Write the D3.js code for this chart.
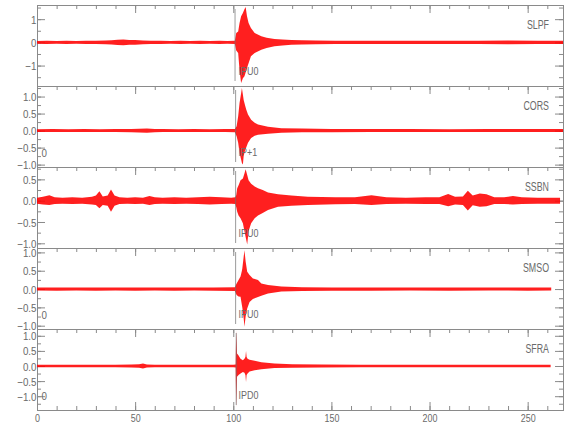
<!DOCTYPE html>
<html><head><meta charset="utf-8">
<script src="https://cdn.jsdelivr.net/npm/d3@7"></script>
<style>body{margin:0;background:#fff}</style>
</head><body><svg id="c" width="580" height="440"></svg>
<script>
// ---------- DATA ----------
const STATIONS = ["SLPF", "CORS", "SSBN", "SMSO", "SFRA"];
const PHASES = ["IPU0", "IP+1", "IPU0", "IPU0", "IPD0"];
const ZERO_MARKS = ["", "0", "", "0", "0"];
const PICKS = [100.9, 101.2, 101.2, 101.2, 101.5];
const X_TICK_LABELS = [0, 50, 100, 150, 200, 250];
const X_MAX = 268;
const Y_MIN = [-1.88, -1.07, -1.11, -1.09, -1.457];
const Y_MAX = [1.61, 1.31, 0.79, 1.12, 1.225];
const Y_MAJOR = [1, 0.5, 0.5, 0.5, 0.5];
const Y_MINOR = [0.5, 0.25, 0.25, 0.25, 0.25];

// Envelope of each trace: time, upper and lower amplitude
const SLPF_T = [0,5,10,15,20,25,30,35,38,41,44,47,50,54,58,63,68,73,78,83,88,93,97,100.8,101.5,102.5,103.2,104,104.9,105.7,106.3,107,107.8,109,110.9,114.3,117,121,125,129.6,135,142,152,165,180,195,210,225,240,255,268];
const SLPF_UP = [0.06,0.07,0.06,0.07,0.06,0.07,0.07,0.08,0.09,0.11,0.12,0.1,0.1,0.08,0.07,0.07,0.06,0.07,0.06,0.07,0.06,0.07,0.06,0.07,0.4,0.47,0.83,1.12,1.26,1.43,1.52,1.12,0.83,0.62,0.4,0.26,0.2,0.14,0.12,0.1,0.09,0.08,0.07,0.07,0.07,0.07,0.07,0.07,0.08,0.07,0.07];
const SLPF_LO = [-0.06,-0.07,-0.06,-0.07,-0.06,-0.07,-0.07,-0.08,-0.09,-0.11,-0.12,-0.1,-0.1,-0.08,-0.07,-0.07,-0.06,-0.07,-0.06,-0.07,-0.06,-0.07,-0.06,-0.07,-0.35,-0.46,-1.2,-1.75,-1.55,-1.46,-1.3,-1.1,-0.9,-0.6,-0.46,-0.32,-0.24,-0.17,-0.13,-0.1,-0.09,-0.08,-0.07,-0.07,-0.07,-0.07,-0.07,-0.07,-0.08,-0.07,-0.07];

const CORS_T = [0,8,16,24,32,40,48,56,60,64,72,80,88,96,100.8,101.7,102.5,103.2,104,104.4,104.9,105.3,106.1,106.6,107.5,109.1,110.9,112.6,117.7,124.5,135,150,170,190,210,230,250,268];
const CORS_UP = [0.04,0.045,0.04,0.045,0.04,0.045,0.05,0.06,0.05,0.045,0.04,0.045,0.04,0.045,0.05,0.13,0.42,0.81,1.1,1.25,1.06,0.9,0.72,0.62,0.47,0.32,0.23,0.18,0.11,0.07,0.06,0.05,0.045,0.045,0.04,0.045,0.045,0.045];
const CORS_LO = [-0.04,-0.045,-0.04,-0.045,-0.04,-0.045,-0.05,-0.06,-0.05,-0.045,-0.04,-0.045,-0.04,-0.045,-0.05,-0.17,-0.36,-0.66,-0.85,-0.95,-1.0,-0.75,-0.56,-0.5,-0.36,-0.22,-0.15,-0.12,-0.09,-0.06,-0.05,-0.05,-0.045,-0.045,-0.04,-0.045,-0.045,-0.045];

const SSBN_T = [0,3,6.3,9,13,18,23,28,30,31.8,33.5,36,37.7,39.5,42,46,50,54,57.3,60,64,70,76,82,88,94,99,101,101.5,102,102.7,103.7,104.9,105.7,106.3,107.1,107.8,109.1,110.9,112.6,115,117.7,122.8,129.6,138,152,162,170.4,178,188,198,205,209.5,213,217,219.5,222,225.6,229,233,238,242.5,247,255,262,266.5];
const SSBN_UP = [0.07,0.09,0.13,0.08,0.07,0.08,0.07,0.09,0.12,0.22,0.1,0.12,0.26,0.12,0.08,0.07,0.08,0.07,0.11,0.08,0.07,0.08,0.07,0.08,0.09,0.08,0.07,0.08,0.13,0.29,0.36,0.48,0.52,0.64,0.74,0.6,0.48,0.4,0.33,0.29,0.25,0.19,0.15,0.12,0.09,0.08,0.08,0.13,0.08,0.07,0.08,0.08,0.155,0.09,0.1,0.23,0.12,0.17,0.15,0.08,0.08,0.11,0.08,0.07,0.07,0.07];
const SSBN_LO = [-0.07,-0.09,-0.1,-0.08,-0.07,-0.08,-0.07,-0.09,-0.1,-0.18,-0.1,-0.12,-0.26,-0.12,-0.08,-0.07,-0.08,-0.07,-0.1,-0.08,-0.07,-0.08,-0.07,-0.08,-0.09,-0.08,-0.07,-0.08,-0.15,-0.26,-0.35,-0.41,-0.53,-0.72,-0.85,-1.03,-0.72,-0.53,-0.41,-0.35,-0.29,-0.22,-0.14,-0.12,-0.1,-0.085,-0.08,-0.1,-0.08,-0.07,-0.08,-0.08,-0.13,-0.09,-0.1,-0.23,-0.11,-0.14,-0.13,-0.08,-0.08,-0.09,-0.08,-0.07,-0.07,-0.07];

const SMSO_T = [0,10,20,30,40,50,60,70,80,90,100.8,101.7,102.7,103.7,104.4,104.6,105.3,105.7,106.3,107.1,108.3,110,112.6,114.3,117.7,124.5,135,150,170,190,210,230,250,262];
const SMSO_UP = [0.04,0.045,0.04,0.045,0.04,0.045,0.04,0.045,0.04,0.045,0.05,0.15,0.25,0.34,0.5,0.56,0.88,1.06,0.75,0.47,0.38,0.29,0.25,0.15,0.11,0.07,0.05,0.045,0.045,0.04,0.045,0.04,0.045,0.04];
const SMSO_LO = [-0.04,-0.045,-0.04,-0.045,-0.04,-0.045,-0.04,-0.045,-0.04,-0.045,-0.05,-0.16,-0.2,-0.21,-0.44,-0.5,-0.8,-1.03,-0.75,-0.53,-0.35,-0.27,-0.22,-0.18,-0.12,-0.07,-0.05,-0.045,-0.045,-0.04,-0.045,-0.04,-0.045,-0.04];

const SFRA_T = [0,10,20,30,40,48,52,54,56,60,70,80,90,100,101.2,101.5,101.9,102.7,103.7,104.9,105.7,106.2,106.5,106.8,107.3,108.3,110.9,114.3,121,130,145,165,190,215,240,261.7];
const SFRA_UP = [0.04,0.04,0.04,0.04,0.045,0.05,0.06,0.08,0.05,0.04,0.04,0.04,0.04,0.04,0.05,1.16,0.41,0.35,0.24,0.19,0.24,0.3,0.5,0.3,0.24,0.21,0.17,0.12,0.08,0.06,0.05,0.045,0.04,0.04,0.04,0.04];
const SFRA_LO = [-0.04,-0.04,-0.04,-0.04,-0.045,-0.05,-0.06,-0.08,-0.05,-0.04,-0.04,-0.04,-0.04,-0.04,-0.05,-1.36,-0.36,-0.3,-0.25,-0.2,-0.22,-0.3,-0.53,-0.3,-0.25,-0.18,-0.14,-0.11,-0.07,-0.06,-0.05,-0.045,-0.04,-0.04,-0.04,-0.04];

const TRACES = [
  [SLPF_T, SLPF_UP, SLPF_LO],
  [CORS_T, CORS_UP, CORS_LO],
  [SSBN_T, SSBN_UP, SSBN_LO],
  [SMSO_T, SMSO_UP, SMSO_LO],
  [SFRA_T, SFRA_UP, SFRA_LO]
];

// ---------- DRAWING ----------
const AX = "#8a8a8a", TXT = "#6a6a6a", RED = "#ff0000";
const FONT = "'Liberation Sans', Arial, sans-serif";
const LEFT = 37, RIGHT = 563, TOP = 5, PH = 81;
const svg = d3.select("#c");
const x = d3.scaleLinear().domain([0, X_MAX]).range([LEFT, RIGHT]);
const xMajor = d3.range(0, X_MAX + 1e-9, 50);
const xMinor = d3.range(0, X_MAX + 1e-9, 10);

function ctext(g, px, py, str, size, sx, anchor) {
  return g.append("text")
    .attr("transform", `translate(${px},${py}) scale(${sx},1)`)
    .attr("text-anchor", anchor)
    .attr("font-family", FONT).attr("font-size", size)
    .attr("fill", TXT).text(str);
}
function ticksFrom(lo, hi, step) {
  const out = [];
  for (let v = Math.ceil(lo / step - 1e-9) * step; v <= hi + 1e-9; v += step) out.push(+v.toFixed(4));
  return out;
}

const layerAxes = svg.append("g");
const layerTrace = svg.append("g");
const layerPick = svg.append("g");
const layerText = svg.append("g");

TRACES.forEach((tr, i) => {
  const t0 = TOP + i * PH, t1 = t0 + PH;
  const y = d3.scaleLinear().domain([Y_MIN[i], Y_MAX[i]]).range([t1, t0]);
  const g = layerAxes.append("g").attr("color", AX);

  g.append("rect").attr("x", LEFT + 0.5).attr("y", t0 + 0.5)
    .attr("width", RIGHT - LEFT).attr("height", PH)
    .attr("fill", "none").attr("stroke", AX).attr("stroke-width", 1);

  const major = ticksFrom(Y_MIN[i], Y_MAX[i], Y_MAJOR[i]);
  const minor = ticksFrom(Y_MIN[i], Y_MAX[i], Y_MINOR[i]);
  const fmt = i === 0 ? d3.format("d") : d3.format(".1f");

  const la = g.append("g").attr("transform", `translate(${LEFT},0)`)
    .call(d3.axisLeft(y).tickValues(minor).tickSize(-4).tickFormat(""));
  la.select(".domain").remove();
  const lm = g.append("g").attr("transform", `translate(${LEFT},0)`)
    .call(d3.axisLeft(y).tickValues(major).tickSize(-8).tickFormat(fmt));
  lm.select(".domain").remove();
  lm.selectAll("text")
    .attr("x", 0).attr("dy", null).attr("y", 4)
    .attr("transform", "translate(-0.5,0) scale(0.85,1)")
    .attr("font-family", FONT).attr("font-size", 11.5).attr("fill", TXT);

  const ra = g.append("g").attr("transform", `translate(${RIGHT},0)`)
    .call(d3.axisRight(y).tickValues(minor).tickSize(-4).tickFormat(""));
  ra.select(".domain").remove();
  const rm = g.append("g").attr("transform", `translate(${RIGHT},0)`)
    .call(d3.axisRight(y).tickValues(major).tickSize(-8).tickFormat(""));
  rm.select(".domain").remove();

  const ta = g.append("g").attr("transform", `translate(0,${t0})`)
    .call(d3.axisTop(x).tickValues(xMinor).tickSize(-4).tickFormat(""));
  ta.select(".domain").remove();
  const tm = g.append("g").attr("transform", `translate(0,${t0})`)
    .call(d3.axisTop(x).tickValues(xMajor).tickSize(-8).tickFormat(""));
  tm.select(".domain").remove();

  if (i === TRACES.length - 1) {
    const ba = g.append("g").attr("transform", `translate(0,${t1})`)
      .call(d3.axisBottom(x).tickValues(xMinor).tickSize(-4).tickFormat(""));
    ba.select(".domain").remove();
    const bm = g.append("g").attr("transform", `translate(0,${t1})`)
      .call(d3.axisBottom(x).tickValues(X_TICK_LABELS).tickSize(-8).tickFormat(d3.format("d")));
    bm.select(".domain").remove();
    bm.selectAll("text")
      .attr("y", 0).attr("dy", null)
      .attr("transform", "translate(0,12) scale(0.85,1)")
      .attr("font-family", FONT).attr("font-size", 10.5).attr("fill", TXT);
  }

  ctext(layerText, 549, t0 + 24, STATIONS[i], 13, 0.68, "end");
  ctext(layerText, 238.5, t0 + 69.5, PHASES[i], 11.5, 0.78, "start");
  if (ZERO_MARKS[i]) ctext(layerText, 41.5, t0 + 70.5, ZERO_MARKS[i], 11.5, 0.85, "start");

  const data = tr[0].map((t, k) => ({ t: t, hi: tr[1][k], lo: tr[2][k] }));
  const clipId = "clip" + i;
  svg.append("clipPath").attr("id", clipId).append("rect")
    .attr("x", LEFT).attr("y", t0).attr("width", RIGHT - LEFT + 1).attr("height", PH + 1);
  layerTrace.append("path").datum(data)
    .attr("clip-path", `url(#${clipId})`)
    .attr("d", d3.area().x(d => x(d.t)).y0(d => y(d.lo)).y1(d => y(d.hi)))
    .attr("fill", RED).attr("fill-opacity", 0.88);

  layerPick.append("line")
    .attr("x1", x(PICKS[i])).attr("x2", x(PICKS[i]))
    .attr("y1", t0 + 4).attr("y2", t1 - 5)
    .attr("stroke", "#707070").attr("stroke-opacity", 0.7).attr("stroke-width", 1);
});
</script>
</body></html>
